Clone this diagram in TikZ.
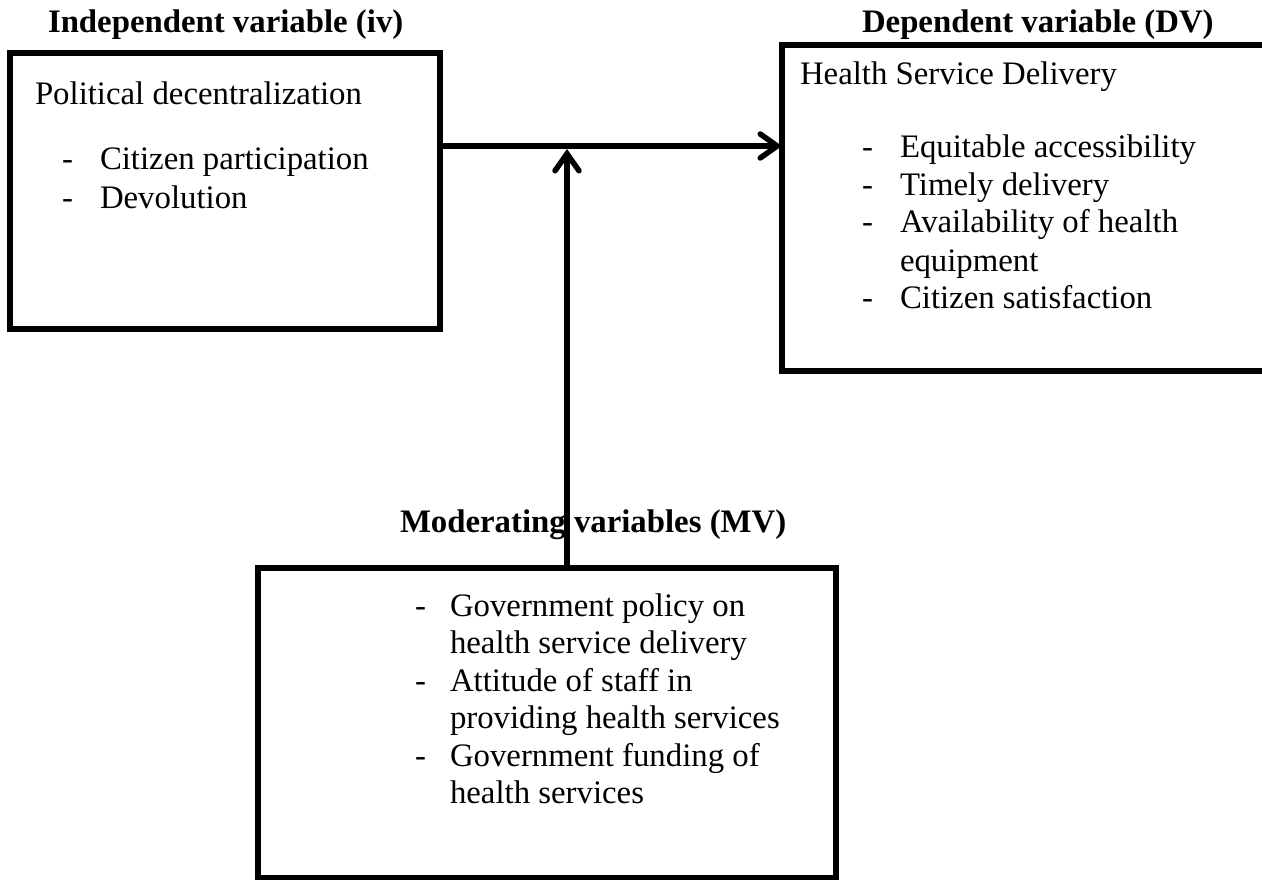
\documentclass[tikz,border=0pt]{standalone}
\usepackage{fontspec}
\setmainfont{Liberation Serif}
\usetikzlibrary{arrows.meta}
\begin{document}
\begin{tikzpicture}[x=1pt,y=-1pt,
  every node/.style={inner sep=0pt, outer sep=0pt},
  txt/.style={anchor=base west, font=\fontsize{32.8}{37.5}\selectfont},
  head/.style={txt, font=\fontsize{32.8}{37.5}\selectfont\bfseries},
  box/.style={draw, line width=5.5pt, minimum width=#1},
  link/.style={line width=5.5pt, -{Straight Barb[length=17pt,width=24pt,line cap=round]}}]
\useasboundingbox (0,0) rectangle (1262,880);

% headings
\node[head] (ivhead) at (48,33) {Independent variable (iv)};
\node[head] (dvhead) at (862,33) {Dependent variable (DV)};
\node[head] (mvhead) at (400,532) {Moderating variables (MV)};

% boxes
\node[box=430pt, minimum height=276pt] (ivbox) at (225,191) {};
\node[box=528pt, minimum height=326pt] (dvbox) at (1046,208) {};
\node[box=578pt, minimum height=309.5pt] (mvbox) at (547,722.75) {};

% independent variable
\node[txt] (iv0) at (35,105) {Political decentralization};
\node[txt] (ivd1) at (62,170) {-};
\node[txt] (iv1) at (100,170) {Citizen participation};
\node[txt] (ivd2) at (62,208) {-};
\node[txt] (iv2) at (100,208) {Devolution};

% dependent variable
\node[txt] (dv0) at (800,85) {Health Service Delivery};
\node[txt] (dvd1) at (862,158) {-};
\node[txt] (dv1) at (900,158) {Equitable accessibility};
\node[txt] (dvd2) at (862,196) {-};
\node[txt] (dv2) at (900,196) {Timely delivery};
\node[txt] (dvd3) at (862,233) {-};
\node[txt] (dv3) at (900,233) {Availability of health};
\node[txt] (dv3b) at (900,271) {equipment};
\node[txt] (dvd4) at (862,308) {-};
\node[txt] (dv4) at (900,308) {Citizen satisfaction};

% moderating variables
\node[txt] (mvd1) at (415,616) {-};
\node[txt] (mv1) at (450,616) {Government policy on};
\node[txt] (mv1b) at (450,653) {health service delivery};
\node[txt] (mvd2) at (415,691) {-};
\node[txt] (mv2) at (450,691) {Attitude of staff in};
\node[txt] (mv2b) at (450,728) {providing health services};
\node[txt] (mvd3) at (415,766) {-};
\node[txt] (mv3) at (450,766) {Government funding of};
\node[txt] (mv3b) at (450,803) {health services};

% connectors
\coordinate (hy) at (0,146);
\coordinate (vx) at (567,0);
\draw[link] (ivbox.east |- hy) -- (dvbox.west |- hy);
\coordinate (vtip) at (567,149);
\draw[link] (mvbox.north -| vx) -- (vtip);
\end{tikzpicture}
\end{document}
